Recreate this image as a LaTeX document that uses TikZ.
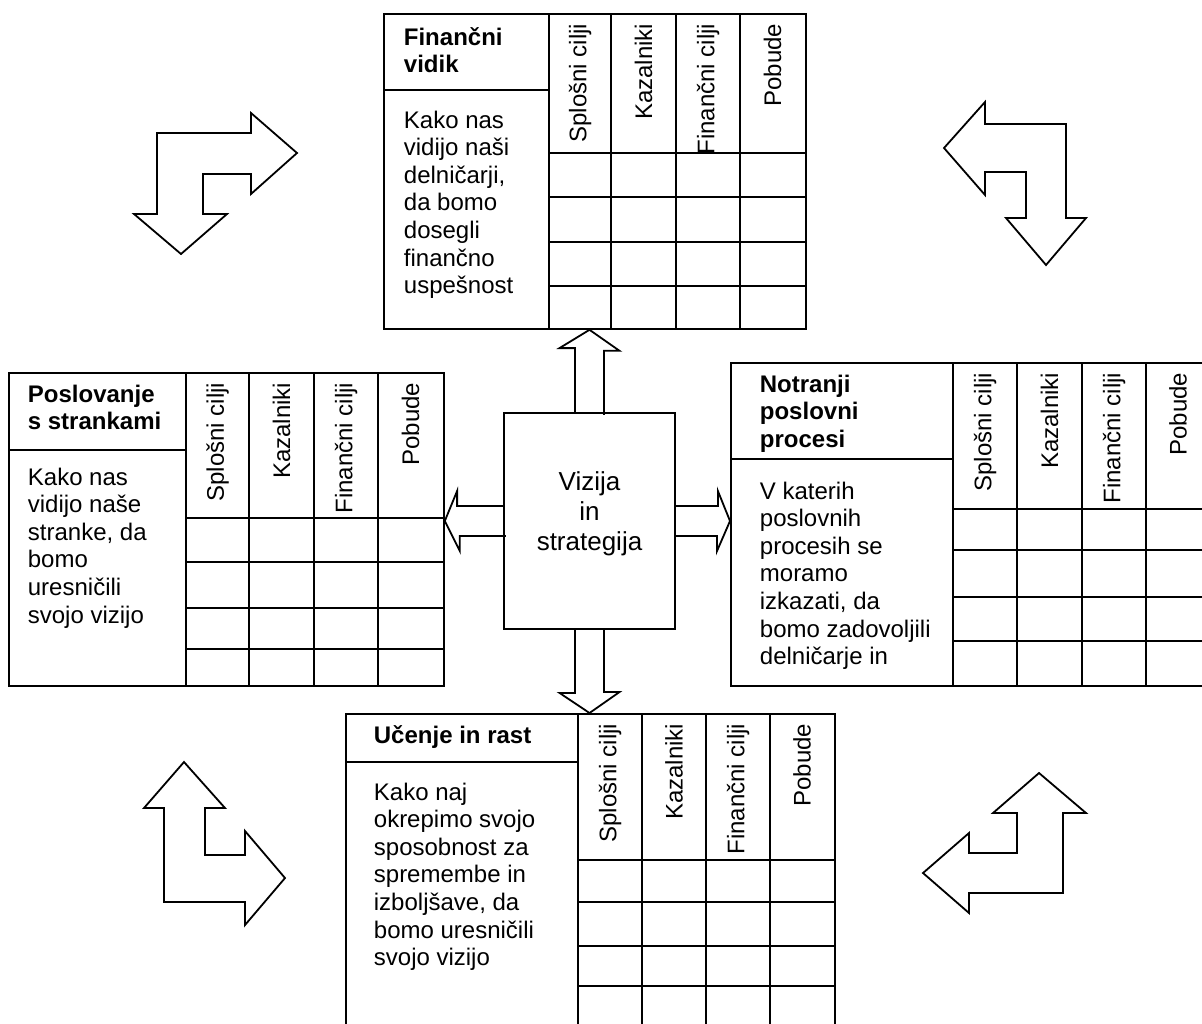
\documentclass[tikz,border=0pt]{standalone}
\usepackage{fontspec}
\setmainfont{Liberation Sans}

\newcommand{\vrstice}[1]{\begin{tabular}[t]{@{}l@{}}#1\end{tabular}}

\begin{document}
\begin{tikzpicture}[x=0.5pt, y=-0.5pt, line width=0.9pt]
        \tikzstyle{tabela}=[draw, inner sep=0, anchor=north west];
        \tikzstyle{glava}=[rotate=90, anchor=east, inner sep=0, font=\fontsize{12}{13.8}\selectfont];
        \tikzstyle{besedilo}=[anchor=base west, inner sep=0, font=\fontsize{12}{13.8}\selectfont];
        \tikzstyle{naslov}=[anchor=base west, inner sep=0, font=\fontsize{12}{13.8}\selectfont\bfseries];
        \tikzstyle{puscica}=[draw, line join=miter];
        \tikzstyle{kot}=[draw, fill=white, line join=miter];

        \useasboundingbox (0,0) rectangle (1202,1023);

        % sredina
        \node[draw, minimum width=85.5pt, minimum height=108pt, font=\fontsize{13}{15}\selectfont] (vizija) at (589.5,521) {\raisebox{3.5pt}[\height][\depth]{\begin{tabular}{@{}c@{}}Vizija\\in\\strategija\end{tabular}}};

        % financni vidik
        \node[tabela, minimum width=211pt, minimum height=157.5pt] (financni) at (383,13) {};
        \draw (549,13) -- (549,328) (383,90) -- (549,90)
              (611,13) -- (611,328) (676,13) -- (676,328) (740,13) -- (740,328)
              (549,153) -- (805,153) (549,197) -- (805,197) (549,242) -- (805,242) (549,286) -- (805,286);
        \node[naslov] (financni-naslov) at (403,45) {\vrstice{Finančni\\vidik}};
        \node[besedilo] (financni-opis) at (403,128) {\vrstice{Kako nas\\vidijo naši\\delničarji,\\da bomo\\dosegli\\finančno\\uspešnost}};
        \node[glava] (financni-1) at (580,23) {Splošni cilji};
        \node[glava] (financni-2) at (643.5,23) {Kazalniki};
        \node[glava] (financni-3) at (708,23) {Finančni cilji};
        \node[glava] (financni-4) at (772.5,23) {Pobude};

        % poslovanje s strankami
        \node[tabela, minimum width=217.5pt, minimum height=156.5pt] (stranke) at (8,372) {};
        \draw (186,372) -- (186,685) (8,450) -- (186,450)
              (249,372) -- (249,685) (314,372) -- (314,685) (378,372) -- (378,685)
              (186,518) -- (443,518) (186,562) -- (443,562) (186,608) -- (443,608) (186,649) -- (443,649);
        \node[naslov] (stranke-naslov) at (27,402) {\vrstice{Poslovanje\\s strankami}};
        \node[besedilo] (stranke-opis) at (27,485) {\vrstice{Kako nas\\vidijo naše\\stranke, da\\bomo\\uresničili\\svojo vizijo}};
        \node[glava] (stranke-1) at (217.5,382) {Splošni cilji};
        \node[glava] (stranke-2) at (281.5,382) {Kazalniki};
        \node[glava] (stranke-3) at (346,382) {Finančni cilji};
        \node[glava] (stranke-4) at (410.5,382) {Pobude};

        % notranji poslovni procesi
        \node[tabela, minimum width=242.5pt, minimum height=161.5pt] (procesi) at (730,362) {};
        \draw (953,362) -- (953,685) (730,459) -- (953,459)
              (1017,362) -- (1017,685) (1082,362) -- (1082,685) (1146,362) -- (1146,685)
              (953,509) -- (1215,509) (953,550) -- (1215,550) (953,597) -- (1215,597) (953,641) -- (1215,641);
        \node[naslov] (procesi-naslov) at (759,392) {\vrstice{Notranji\\poslovni\\procesi}};
        \node[besedilo] (procesi-opis) at (759,499) {\vrstice{V katerih\\poslovnih\\procesih se\\moramo\\izkazati, da\\bomo zadovoljili\\delničarje in}};
        \node[glava] (procesi-1) at (985,372) {Splošni cilji};
        \node[glava] (procesi-2) at (1049.5,372) {Kazalniki};
        \node[glava] (procesi-3) at (1114,372) {Finančni cilji};
        \node[glava] (procesi-4) at (1178,372) {Pobude};

        % ucenje in rast
        \node[tabela, minimum width=244.5pt, minimum height=173.5pt] (ucenje) at (345,713) {};
        \draw (578,713) -- (578,1060) (345,762) -- (578,762)
              (642,713) -- (642,1060) (706,713) -- (706,1060) (770,713) -- (770,1060)
              (578,860) -- (834,860) (578,902) -- (834,902) (578,946) -- (834,946) (578,986) -- (834,986);
        \node[naslov] (ucenje-naslov) at (373,743) {\vrstice{Učenje in rast}};
        \node[besedilo] (ucenje-opis) at (373,800) {\vrstice{Kako naj\\okrepimo svojo\\sposobnost za\\spremembe in\\izboljšave, da\\bomo uresničili\\svojo vizijo}};
        \node[glava] (ucenje-1) at (610,723) {Splošni cilji};
        \node[glava] (ucenje-2) at (674,723) {Kazalniki};
        \node[glava] (ucenje-3) at (738,723) {Finančni cilji};
        \node[glava] (ucenje-4) at (802,723) {Pobude};

        % puscice iz sredine
        \draw[puscica] (vizija.north) ++(-14.5,0) -- ++(0,-64) -- ++(-15.5,0) -- (vizija.north |- financni.south) -- ++(30,21) -- ++(-15.5,0) -- ++(0,64);
        \draw[puscica] (vizija.south) ++(-14.5,0) -- ++(0,63) -- ++(-15.5,0) -- (vizija.south |- ucenje.north) -- ++(30,-21) -- ++(-15.5,0) -- ++(0,-63);
        \draw[puscica] (vizija.west) ++(0,-15) -- ++(-46,0) -- ++(0,-15) -- (vizija.west -| stranke.east) -- ++(15,30) -- ++(0,-15) -- ++(46,0);
        \draw[puscica] (vizija.east) ++(0,-15) -- ++(42,0) -- ++(0,-15) -- (vizija.east -| procesi.west) -- ++(-13,30) -- ++(0,-15) -- ++(-42,0);

        % kotne puscice
        \draw[kot] (157,133) -- (251,133) -- (251,113) -- (297,153) -- (251,194) -- (251,174) -- (203,174) -- (203,214) -- (227,214) -- (181,254) -- (134,214) -- (157,214) -- cycle;
        \draw[kot] (944,148) -- (985,102) -- (985,124) -- (1066,124) -- (1066,218) -- (1086,218) -- (1046,265) -- (1006,218) -- (1026,218) -- (1026,172) -- (985,172) -- (985,195) -- cycle;
        \draw[kot] (184,762) -- (225,808) -- (205,808) -- (205,855) -- (245,855) -- (245,831) -- (285,878) -- (245,925) -- (245,902) -- (164,902) -- (164,808) -- (144,808) -- cycle;
        \draw[kot] (1039,773) -- (1086,813) -- (1063,813) -- (1063,893) -- (969,893) -- (969,913) -- (923,873) -- (969,833) -- (969,853) -- (1017,853) -- (1017,813) -- (993,813) -- cycle;
\end{tikzpicture}
\end{document}
